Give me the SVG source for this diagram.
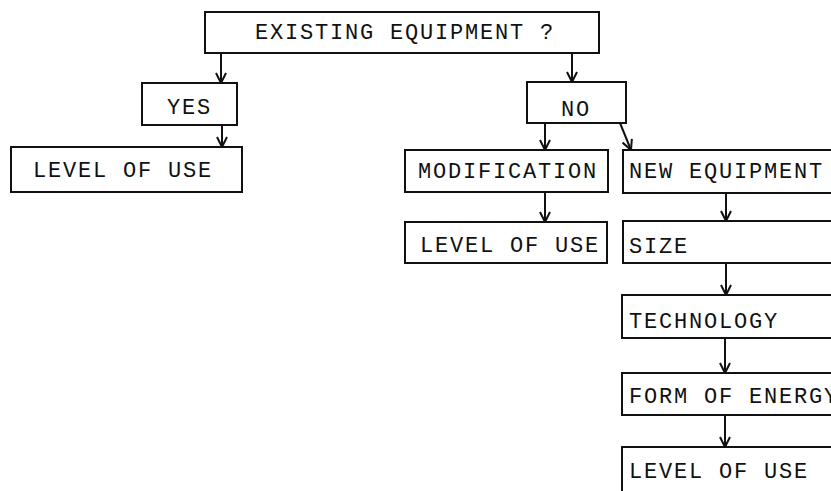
<svg xmlns="http://www.w3.org/2000/svg" width="831" height="491" viewBox="0 0 831 491">
<style>
  .box { fill: #ffffff; stroke: #111111; stroke-width: 2; }
  .lbl { font-family: "Courier New", "Liberation Mono", monospace; font-size: 22px; letter-spacing: 1.8px; fill: #111111; }
  .con { fill: none; stroke: #111111; stroke-width: 2; }
</style>
<defs>
  <marker id="arr" viewBox="0 0 12 12" refX="11" refY="6" markerWidth="12" markerHeight="12" markerUnits="userSpaceOnUse" orient="auto">
    <polyline points="1,1 11,6 1,11" fill="none" stroke="#111111" stroke-width="2"/>
  </marker>
</defs>
<rect width="831" height="491" fill="#ffffff"/>

<g id="connectors">
  <line class="con" x1="221" y1="53" x2="221" y2="83" marker-end="url(#arr)"/>
  <line class="con" x1="572" y1="53" x2="572" y2="82" marker-end="url(#arr)"/>
  <line class="con" x1="222" y1="125" x2="222" y2="147" marker-end="url(#arr)"/>
  <line class="con" x1="545" y1="123" x2="545" y2="150" marker-end="url(#arr)"/>
  <line class="con" x1="620" y1="123" x2="631" y2="150" marker-end="url(#arr)"/>
  <line class="con" x1="545" y1="192" x2="545" y2="222" marker-end="url(#arr)"/>
  <line class="con" x1="726" y1="193" x2="726" y2="221" marker-end="url(#arr)"/>
  <line class="con" x1="726" y1="263" x2="726" y2="295" marker-end="url(#arr)"/>
  <line class="con" x1="725" y1="338" x2="725" y2="373" marker-end="url(#arr)"/>
  <line class="con" x1="725" y1="415" x2="725" y2="447" marker-end="url(#arr)"/>
</g>

<g id="existing">
  <rect class="box" x="205" y="12" width="394" height="41"/>
  <text class="lbl" x="255" y="39">EXISTING EQUIPMENT ?</text>
</g>
<g id="yes">
  <rect class="box" x="142" y="83" width="95" height="42"/>
  <text class="lbl" x="167" y="114">YES</text>
</g>
<g id="use-yes">
  <rect class="box" x="11" y="147" width="231" height="45"/>
  <text class="lbl" x="33" y="177">LEVEL OF USE</text>
</g>
<g id="no">
  <rect class="box" x="527" y="82" width="99" height="41"/>
  <text class="lbl" x="561" y="116">NO</text>
</g>
<g id="modification">
  <rect class="box" x="405" y="150" width="203" height="42"/>
  <text class="lbl" x="418" y="178">MODIFICATION</text>
</g>
<g id="use-mod">
  <rect class="box" x="405" y="222" width="202" height="41"/>
  <text class="lbl" x="420" y="252">LEVEL OF USE</text>
</g>
<g id="new-equipment">
  <rect class="box" x="623" y="150" width="220" height="43"/>
  <text class="lbl" x="629" y="178">NEW EQUIPMENT</text>
</g>
<g id="size">
  <rect class="box" x="623" y="221" width="220" height="42"/>
  <text class="lbl" x="629" y="253">SIZE</text>
</g>
<g id="technology">
  <rect class="box" x="622" y="295" width="220" height="43"/>
  <text class="lbl" x="629" y="328">TECHNOLOGY</text>
</g>
<g id="energy">
  <rect class="box" x="622" y="373" width="220" height="42"/>
  <text class="lbl" x="629" y="403">FORM OF ENERGY</text>
</g>
<g id="use-new">
  <rect class="box" x="622" y="447" width="220" height="60"/>
  <text class="lbl" x="629" y="478">LEVEL OF USE</text>
</g>
</svg>
